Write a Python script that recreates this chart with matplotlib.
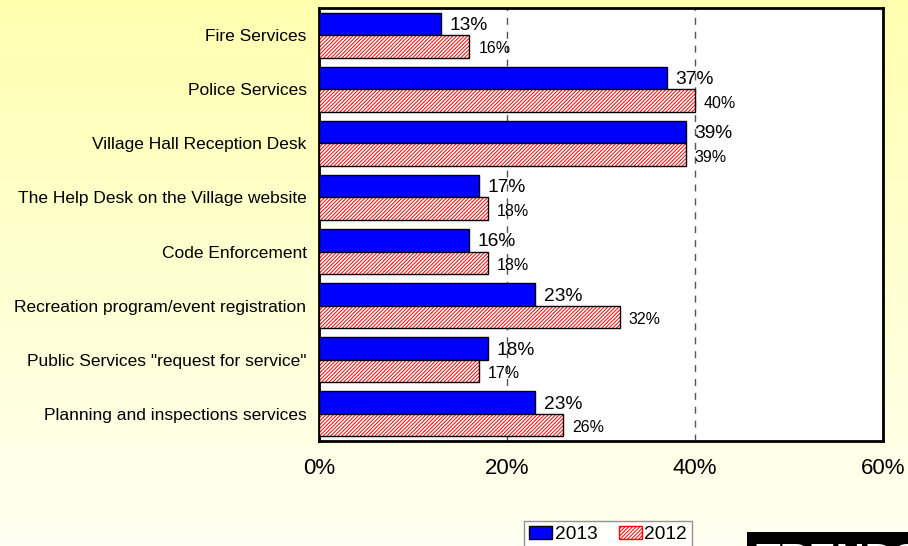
import numpy as np
import matplotlib
matplotlib.use("Agg")
import matplotlib.pyplot as plt
from matplotlib.colors import LinearSegmentedColormap
from matplotlib.patches import Rectangle, Patch

categories = [
    "Fire Services",
    "Police Services",
    "Village Hall Reception Desk",
    "The Help Desk on the Village website",
    "Code Enforcement",
    "Recreation program/event registration",
    'Public Services "request for service"',
    "Planning and inspections services",
]
values_2013 = [13, 37, 39, 17, 16, 23, 18, 23]
values_2012 = [16, 40, 39, 18, 18, 32, 17, 26]
xticks = [0, 20, 40, 60]

plt.rcParams["font.family"] = ["Liberation Sans", "DejaVu Sans"]
plt.rcParams["hatch.linewidth"] = 0.7

HATCH = "/" * 9

fig = plt.figure(figsize=(9.08, 5.46), dpi=100)

# yellow-to-cream background
bg = fig.add_axes([0, 0, 1, 1], zorder=-10)
cmap = LinearSegmentedColormap.from_list("bg", ["#fffff2", "#ffffb0"])
grad = np.linspace(0, 1, 256).reshape(-1, 1)
bg.imshow(grad, cmap=cmap, aspect="auto", origin="lower", extent=[0, 1, 0, 1])
bg.set_axis_off()

L, R = 319 / 908, 883 / 908
T, B = 1 - 8 / 546, 1 - 441 / 546
ax = fig.add_axes([L, B, R - L, T - B])
ax.set_facecolor("white")

n = len(categories)
y = np.arange(n)
h = 0.415

ax.barh(y - h / 2, values_2013, height=h, color="#0000ff",
        edgecolor="black", linewidth=1, zorder=3)
ax.barh(y + h / 2, values_2012, height=h, color="white",
        edgecolor="#ff0000", hatch=HATCH, linewidth=0, zorder=3)
ax.barh(y + h / 2, values_2012, height=h, color="none",
        edgecolor="black", linewidth=1, zorder=4)

for yi, v in zip(y, values_2013):
    ax.text(v + 0.9, yi - h / 2 + 0.03, f"{v}%", va="center", ha="left",
            fontsize=13.8, zorder=5)
for yi, v in zip(y, values_2012):
    ax.text(v + 0.95, yi + h / 2 + 0.05, f"{v}%", va="center", ha="left",
            fontsize=11.5, zorder=5)

ax.set_xlim(0, 60)
ax.set_ylim(n - 0.5, -0.5)
ax.set_yticks(y)
ax.set_yticklabels(categories, fontsize=12.5)
ax.set_xticks(xticks)
ax.set_xticklabels([f"{t}%" for t in xticks], fontsize=16)
ax.tick_params(axis="both", length=0)
ax.tick_params(axis="x", pad=12)
ax.tick_params(axis="y", pad=9)
ax.xaxis.grid(True, linestyle=(0, (5, 5)), color="#555555", linewidth=1)
ax.set_axisbelow(True)
for s in ax.spines.values():
    s.set_linewidth(2)
    s.set_color("black")

leg = fig.legend(
    handles=[Patch(facecolor="#0000ff", edgecolor="black", label="2013"),
             Patch(facecolor="white", edgecolor="#ff0000", hatch=HATCH,
                   label="2012")],
    loc="upper left", bbox_to_anchor=(524 / 908, 1 - 521 / 546),
    ncol=2, fontsize=13.8, frameon=True, fancybox=False,
    handlelength=1.2, handleheight=0.7, handletextpad=0.15,
    columnspacing=1.1, borderpad=0.25, borderaxespad=0)
leg.get_frame().set_edgecolor("#777777")
leg.get_frame().set_linewidth(1)

# black banner in the lower right corner
fig.patches.append(Rectangle((747 / 908, 0), 1, 14 / 546,
                             transform=fig.transFigure, facecolor="black",
                             edgecolor="none", zorder=5))
fig.text(755 / 908, -26 / 546, "TRENDS", color="white", fontsize=29,
         fontweight="bold", ha="left", va="baseline", zorder=6)

fig.savefig("out.png", dpi=100)
